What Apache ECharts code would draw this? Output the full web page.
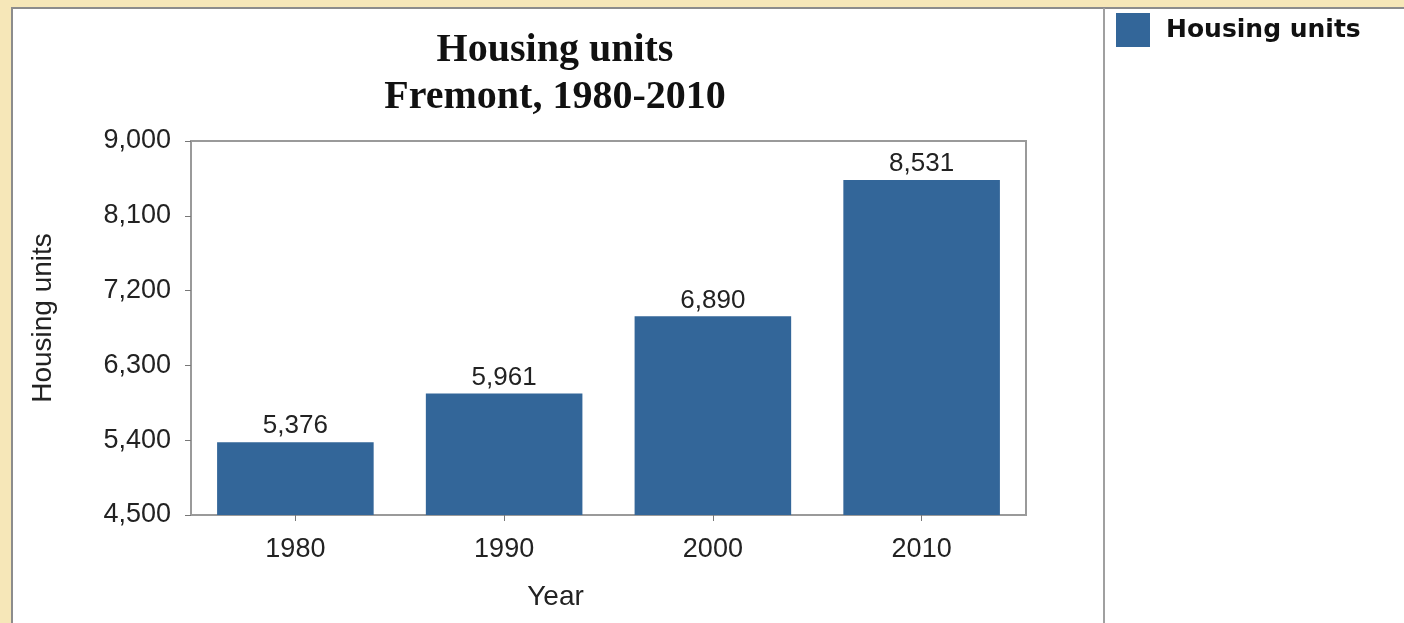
<!DOCTYPE html>
<html>
<head>
<meta charset="utf-8">
<script src="https://cdn.jsdelivr.net/npm/echarts@6/dist/echarts.min.js"></script>
<style>
html,body{margin:0;padding:0;background:#f6e7b8;}
#chart{width:1404px;height:623px;}
</style>
</head>
<body>
<div id="chart"></div>
<script>
var categories = ['1980', '1990', '2000', '2010'];
var housingUnits = [5376, 5961, 6890, 8531];
var yTicks = [4500, 5400, 6300, 7200, 8100, 9000];
var seriesName = 'Housing units';
var titleText = 'Housing units\nFremont, 1980-2010';

function fmt(v) { return Number(v).toLocaleString('en-US'); }

var chart = echarts.init(document.getElementById('chart'));
chart.setOption({
  backgroundColor: '#f6e7b8',
  animation: false,
  graphic: [
    { type: 'rect', z: -10, shape: { x: 12, y: 8, width: 1400, height: 620 },
      style: { fill: '#ffffff', stroke: '#8c8c8c', lineWidth: 2 } },
    { type: 'line', z: -9, shape: { x1: 1104, y1: 8, x2: 1104, y2: 623 },
      style: { stroke: '#a0a0a0', lineWidth: 2 } }
  ],
  title: {
    text: titleText,
    left: 550,
    top: 22,
    textAlign: 'center',
    textStyle: {
      fontFamily: 'Liberation Serif',
      fontWeight: 'bold',
      fontSize: 40,
      lineHeight: 47,
      color: '#111'
    }
  },
  legend: {
    left: 1111,
    top: 8,
    itemWidth: 34,
    itemHeight: 34,
    icon: 'rect',
    data: [seriesName],
    textStyle: {
      fontFamily: 'DejaVu Sans',
      fontWeight: 'bold',
      fontSize: 25,
      color: '#111',
      padding: [0, 0, 0, 11]
    }
  },
  grid: { left: 191, right: 378, top: 141, bottom: 108, show: true, borderColor: '#9a9a9a', borderWidth: 2 },
  xAxis: {
    type: 'category',
    data: categories,
    name: 'Year',
    nameLocation: 'middle',
    nameGap: 68,
    nameTextStyle: { fontFamily: 'Liberation Sans', fontSize: 28, color: '#222', padding: [0, 106, 0, 0] },
    axisLine: { lineStyle: { color: '#9a9a9a', width: 2 } },
    axisTick: { show: true, alignWithLabel: true, length: 6, lineStyle: { color: '#777' } },
    axisLabel: { fontFamily: 'Liberation Sans', fontSize: 27, color: '#222', margin: 21 }
  },
  yAxis: {
    type: 'value',
    min: 4500,
    max: 9000,
    interval: 900,
    name: 'Housing units',
    nameLocation: 'middle',
    nameGap: 134,
    nameTextStyle: { fontFamily: 'Liberation Sans', fontSize: 28, color: '#222', padding: [0, 0, 0, 20] },
    splitLine: { show: false },
    axisLine: { show: true, lineStyle: { color: '#9a9a9a', width: 2 } },
    axisTick: { show: true, length: 6, lineStyle: { color: '#777' } },
    axisLabel: {
      fontFamily: 'Liberation Sans', fontSize: 27, color: '#222', margin: 20,
      formatter: function (v) { return yTicks.indexOf(v) >= 0 ? fmt(v) : ''; }
    }
  },
  series: [{
    name: seriesName,
    type: 'bar',
    data: housingUnits,
    barWidth: '75%',
    itemStyle: { color: '#336699' },
    label: {
      show: true,
      position: 'top',
      distance: 3,
      fontFamily: 'Liberation Sans',
      fontSize: 26,
      color: '#222',
      formatter: function (p) { return fmt(p.value); }
    }
  }]
});
</script>
</body>
</html>
